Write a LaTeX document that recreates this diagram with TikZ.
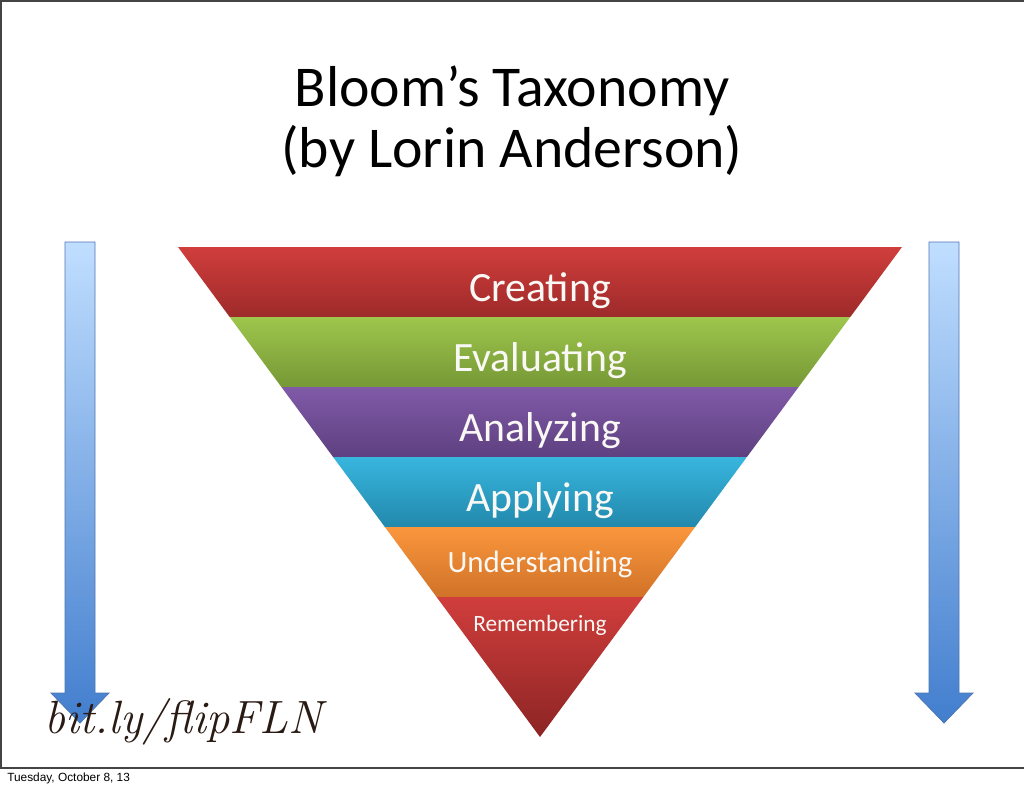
\documentclass[tikz,border=0pt]{standalone}
\usepackage{fontspec}
\setmainfont{Carlito}
\newfontfamily\footfont{Liberation Sans}
\newfontfamily\handfont{Latin Modern Roman}
\definecolor{redT}{RGB}{208,62,60}
\definecolor{redB}{RGB}{158,42,42}
\definecolor{grnT}{RGB}{158,198,76}
\definecolor{grnB}{RGB}{118,152,54}
\definecolor{purT}{RGB}{128,90,168}
\definecolor{purB}{RGB}{94,64,128}
\definecolor{cyaT}{RGB}{56,182,222}
\definecolor{cyaB}{RGB}{34,136,172}
\definecolor{orgT}{RGB}{250,150,60}
\definecolor{orgB}{RGB}{208,114,40}
\definecolor{rd2T}{RGB}{208,62,60}
\definecolor{rd2B}{RGB}{140,36,36}
\definecolor{arrT}{RGB}{192,222,255}
\definecolor{arrB}{RGB}{66,126,206}
\definecolor{arrE}{RGB}{78,118,180}
\definecolor{frame}{RGB}{68,68,68}
\definecolor{hand}{RGB}{42,26,20}
\definecolor{lbltxt}{RGB}{250,248,244}
\begin{document}
\begin{tikzpicture}[x=0.75pt,y=-0.75pt,
  lbl/.style={anchor=base,text=lbltxt,inner sep=0pt},
  ttl/.style={anchor=base,inner sep=0pt,font=\fontsize{43.3}{50}\selectfont},
  bluearrow/.style={top color=arrT,bottom color=arrB,draw=arrE,line width=0.6pt},
  framestyle/.style={draw=frame,line width=1.5pt}]
\useasboundingbox (0,0) rectangle (1024,788);
\fill[white] (0,0) rectangle (1024,788);
% frame
\draw[framestyle] (1,768) -- (1,0.75) -- (1024,0.75);
\draw[framestyle] (0,768) -- (1024,768);
% title
\node[ttl] (t1) at (512,107) {Bloom’s Taxonomy};
\node[ttl] (t2) at (512,167) {(by Lorin Anderson)};
% pyramid bands
\shade[top color=redT,bottom color=redB] (178,247) -- (902,247) -- (850.3,317) -- (229.7,317) -- cycle;
\shade[top color=grnT,bottom color=grnB] (229.7,317) -- (850.3,317) -- (798.6,387) -- (281.4,387) -- cycle;
\shade[top color=purT,bottom color=purB] (281.4,387) -- (798.6,387) -- (746.9,457) -- (333.1,457) -- cycle;
\shade[top color=cyaT,bottom color=cyaB] (333.1,457) -- (746.9,457) -- (695.1,527) -- (384.9,527) -- cycle;
\shade[top color=orgT,bottom color=orgB] (384.9,527) -- (695.1,527) -- (643.4,597) -- (436.6,597) -- cycle;
\shade[top color=rd2T,bottom color=rd2B] (436.6,597) -- (643.4,597) -- (540,737) -- cycle;
% labels
\node[lbl,font=\fontsize{31.3}{37}\selectfont] (creating) at (540,301) {Creating};
\node[lbl,font=\fontsize{31.3}{37}\selectfont] (evaluating) at (540,371) {Evaluating};
\node[lbl,font=\fontsize{31.3}{37}\selectfont] (analyzing) at (540,441) {Analyzing};
\node[lbl,font=\fontsize{31.3}{37}\selectfont] (applying) at (540,511) {Applying};
\node[lbl,font=\fontsize{23.2}{28}\selectfont] (understanding) at (540,572) {Understanding};
\node[lbl,font=\fontsize{17.5}{21}\selectfont] (remembering) at (540,631) {Remembering};
% arrows
\shade[bluearrow] (65,242) -- (95,242) -- (95,693) -- (109,693) -- (80,723) -- (51,693) -- (65,693) -- cycle;
\shade[bluearrow] (929,242) -- (959,242) -- (959,693) -- (973,693) -- (944,723) -- (915,693) -- (929,693) -- cycle;
% link text
\node[anchor=base west,inner sep=0pt,text=hand,font=\handfont\itshape\fontsize{35}{40}\selectfont] (link) at (44,733) {bit.ly/flipFLN};
% footer
\node[anchor=base west,inner sep=0pt,font=\footfont\fontsize{8.9}{10}\selectfont] (footer) at (7,781) {Tuesday, October 8, 13};
\end{tikzpicture}
\end{document}
